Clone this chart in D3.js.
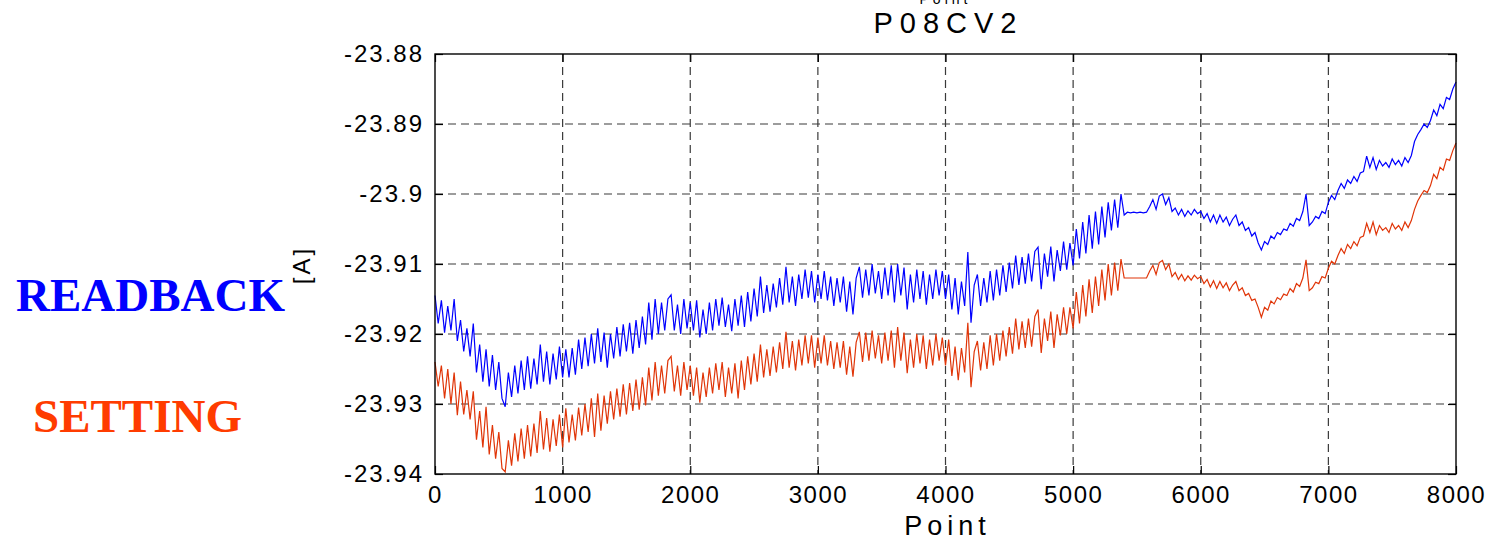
<!DOCTYPE html>
<html>
<head>
<meta charset="utf-8">
<script src="https://cdn.jsdelivr.net/npm/d3@7"></script>
<style>
  html, body { margin: 0; padding: 0; background: #fff; }
  svg { display: block; }
  .sans { font-family: "Liberation Sans", Arial, Helvetica, sans-serif; }
</style>
</head>
<body>
<svg id="chart" width="1490" height="541"></svg>
<script>
// ---- data (sample step = 25 points) ----
const sampleStep = 25;
const readback = [
-23.9145,-23.9185,-23.9152,-23.9198,-23.9160,-23.9195,-23.9150,-23.9210,-23.9180,-23.9225,
-23.9192,-23.9232,-23.9185,-23.9255,-23.9215,-23.9268,-23.9222,-23.9275,-23.9230,-23.9280,
-23.9240,-23.9292,-23.9304,-23.9255,-23.9290,-23.9245,-23.9285,-23.9238,-23.9280,-23.9232,
-23.9278,-23.9235,-23.9272,-23.9215,-23.9268,-23.9225,-23.9272,-23.9228,-23.9265,-23.9218,
-23.9262,-23.9222,-23.9262,-23.9220,-23.9258,-23.9208,-23.9250,-23.9205,-23.9246,-23.9200,
-23.9242,-23.9192,-23.9240,-23.9198,-23.9248,-23.9200,-23.9235,-23.9190,-23.9232,-23.9186,
-23.9225,-23.9184,-23.9228,-23.9180,-23.9220,-23.9175,-23.9215,-23.9155,-23.9208,-23.9150,
-23.9200,-23.9155,-23.9195,-23.9150,-23.9144,-23.9195,-23.9158,-23.9200,-23.9150,-23.9192,
-23.9155,-23.9195,-23.9152,-23.9205,-23.9165,-23.9200,-23.9155,-23.9195,-23.9150,-23.9188,
-23.9148,-23.9190,-23.9158,-23.9196,-23.9150,-23.9188,-23.9145,-23.9190,-23.9140,-23.9182,
-23.9135,-23.9175,-23.9118,-23.9170,-23.9130,-23.9168,-23.9128,-23.9162,-23.9120,-23.9158,
-23.9104,-23.9155,-23.9118,-23.9160,-23.9115,-23.9150,-23.9108,-23.9148,-23.9110,-23.9155,
-23.9115,-23.9150,-23.9110,-23.9152,-23.9118,-23.9160,-23.9120,-23.9155,-23.9118,-23.9168,
-23.9125,-23.9172,-23.9120,-23.9104,-23.9148,-23.9108,-23.9145,-23.9100,-23.9142,-23.9110,
-23.9150,-23.9105,-23.9145,-23.9102,-23.9155,-23.9100,-23.9145,-23.9105,-23.9165,-23.9115,
-23.9155,-23.9108,-23.9150,-23.9110,-23.9158,-23.9115,-23.9150,-23.9108,-23.9145,-23.9110,
-23.9150,-23.9115,-23.9165,-23.9120,-23.9172,-23.9125,-23.9160,-23.9083,-23.9184,-23.9130,
-23.9115,-23.9160,-23.9120,-23.9155,-23.9110,-23.9152,-23.9108,-23.9145,-23.9102,-23.9140,
-23.9098,-23.9135,-23.9088,-23.9130,-23.9090,-23.9128,-23.9085,-23.9125,-23.9082,-23.9076,
-23.9136,-23.9085,-23.9118,-23.9075,-23.9125,-23.9080,-23.9110,-23.9068,-23.9108,-23.9070,
-23.9102,-23.9050,-23.9092,-23.9040,-23.9085,-23.9030,-23.9078,-23.9025,-23.9072,-23.9018,
-23.9062,-23.9012,-23.9052,-23.9008,-23.9048,-23.9000,-23.9030,-23.9026,-23.9027,-23.9026,
-23.9027,-23.9026,-23.9027,-23.9026,-23.9018,-23.9008,-23.9022,-23.9003,-23.9000,-23.9015,
-23.9005,-23.9025,-23.9020,-23.9030,-23.9022,-23.9032,-23.9024,-23.9030,-23.9022,-23.9028,
-23.9025,-23.9035,-23.9028,-23.9040,-23.9030,-23.9042,-23.9030,-23.9040,-23.9033,-23.9045,
-23.9036,-23.9030,-23.9045,-23.9040,-23.9052,-23.9048,-23.9060,-23.9055,-23.9070,-23.9080,
-23.9068,-23.9072,-23.9060,-23.9064,-23.9055,-23.9058,-23.9050,-23.9052,-23.9042,-23.9046,
-23.9035,-23.9038,-23.9025,-23.9000,-23.9045,-23.9040,-23.9032,-23.9035,-23.9025,-23.9028,
-23.9012,-23.9002,-23.9008,-23.8995,-23.8985,-23.8992,-23.8980,-23.8985,-23.8975,-23.8982,
-23.8970,-23.8968,-23.8946,-23.8962,-23.8948,-23.8965,-23.8952,-23.8960,-23.8955,-23.8962,
-23.8950,-23.8958,-23.8952,-23.8960,-23.8948,-23.8955,-23.8945,-23.8925,-23.8915,-23.8908,
-23.8900,-23.8905,-23.8895,-23.8880,-23.8888,-23.8872,-23.8878,-23.8862,-23.8865,-23.8850,
-23.8840
];
const setting = [
-23.9240,-23.9275,-23.9245,-23.9292,-23.9250,-23.9300,-23.9255,-23.9316,-23.9268,-23.9315,
-23.9280,-23.9322,-23.9282,-23.9351,-23.9310,-23.9362,-23.9304,-23.9372,-23.9330,-23.9378,
-23.9340,-23.9392,-23.9397,-23.9352,-23.9388,-23.9342,-23.9382,-23.9335,-23.9378,-23.9330,
-23.9375,-23.9328,-23.9370,-23.9310,-23.9365,-23.9320,-23.9368,-23.9322,-23.9360,-23.9315,
-23.9362,-23.9306,-23.9355,-23.9315,-23.9352,-23.9305,-23.9345,-23.9300,-23.9340,-23.9292,
-23.9347,-23.9285,-23.9338,-23.9288,-23.9328,-23.9282,-23.9322,-23.9278,-23.9318,-23.9272,
-23.9315,-23.9270,-23.9310,-23.9265,-23.9308,-23.9262,-23.9302,-23.9248,-23.9295,-23.9240,
-23.9288,-23.9245,-23.9285,-23.9238,-23.9232,-23.9282,-23.9245,-23.9288,-23.9240,-23.9280,
-23.9245,-23.9288,-23.9248,-23.9298,-23.9255,-23.9290,-23.9248,-23.9285,-23.9242,-23.9280,
-23.9240,-23.9290,-23.9248,-23.9285,-23.9242,-23.9292,-23.9238,-23.9280,-23.9232,-23.9272,
-23.9228,-23.9268,-23.9215,-23.9262,-23.9222,-23.9260,-23.9218,-23.9255,-23.9212,-23.9250,
-23.9197,-23.9248,-23.9210,-23.9252,-23.9208,-23.9245,-23.9202,-23.9242,-23.9202,-23.9248,
-23.9205,-23.9242,-23.9202,-23.9245,-23.9210,-23.9250,-23.9212,-23.9248,-23.9210,-23.9258,
-23.9218,-23.9261,-23.9212,-23.9197,-23.9240,-23.9198,-23.9238,-23.9195,-23.9235,-23.9202,
-23.9242,-23.9198,-23.9238,-23.9195,-23.9248,-23.9190,-23.9238,-23.9198,-23.9256,-23.9208,
-23.9248,-23.9200,-23.9242,-23.9202,-23.9250,-23.9208,-23.9245,-23.9200,-23.9238,-23.9205,
-23.9245,-23.9208,-23.9260,-23.9218,-23.9266,-23.9220,-23.9255,-23.9184,-23.9276,-23.9225,
-23.9210,-23.9252,-23.9212,-23.9250,-23.9202,-23.9245,-23.9200,-23.9238,-23.9195,-23.9232,
-23.9190,-23.9228,-23.9178,-23.9222,-23.9182,-23.9220,-23.9178,-23.9218,-23.9175,-23.9165,
-23.9227,-23.9178,-23.9210,-23.9168,-23.9220,-23.9172,-23.9202,-23.9162,-23.9200,-23.9162,
-23.9192,-23.9140,-23.9185,-23.9130,-23.9175,-23.9122,-23.9170,-23.9118,-23.9160,-23.9108,
-23.9152,-23.9100,-23.9145,-23.9098,-23.9138,-23.9093,-23.9120,-23.9120,-23.9120,-23.9120,
-23.9120,-23.9120,-23.9120,-23.9120,-23.9110,-23.9102,-23.9115,-23.9098,-23.9095,-23.9108,
-23.9100,-23.9118,-23.9112,-23.9122,-23.9115,-23.9124,-23.9117,-23.9123,-23.9116,-23.9121,
-23.9118,-23.9128,-23.9122,-23.9133,-23.9124,-23.9135,-23.9125,-23.9134,-23.9127,-23.9138,
-23.9130,-23.9125,-23.9138,-23.9134,-23.9145,-23.9142,-23.9152,-23.9150,-23.9162,-23.9176,
-23.9162,-23.9166,-23.9153,-23.9157,-23.9148,-23.9151,-23.9143,-23.9145,-23.9135,-23.9140,
-23.9128,-23.9132,-23.9120,-23.9094,-23.9138,-23.9134,-23.9126,-23.9128,-23.9118,-23.9120,
-23.9106,-23.9096,-23.9100,-23.9088,-23.9078,-23.9085,-23.9072,-23.9078,-23.9068,-23.9074,
-23.9062,-23.9060,-23.9042,-23.9055,-23.9040,-23.9058,-23.9045,-23.9052,-23.9048,-23.9055,
-23.9042,-23.9050,-23.9045,-23.9052,-23.9040,-23.9048,-23.9038,-23.9022,-23.9010,-23.9002,
-23.8995,-23.8998,-23.8988,-23.8972,-23.8978,-23.8962,-23.8966,-23.8950,-23.8952,-23.8938,
-23.8927
];
const xTicks = [0, 1000, 2000, 3000, 4000, 5000, 6000, 7000, 8000];
const xTickLabels = ["0","1000","2000","3000","4000","5000","6000","7000","8000"];
const yTicks = [-23.94, -23.93, -23.92, -23.91, -23.90, -23.89, -23.88];
const yTickLabels = ["-23.94","-23.93","-23.92","-23.91","-23.9","-23.89","-23.88"];
const titleText = "P08CV2";
const xLabel = "Point";
const yLabel = "[A]";
const seriesNames = ["READBACK", "SETTING"];

// ---- layout ----
const svg = d3.select("#chart");
const L = 435, R = 1456, T = 54, B = 474;
const x = d3.scaleLinear().domain([0, 8000]).range([L, R]);
const y = d3.scaleLinear().domain([-23.94, -23.88]).range([B, T]);

// grid
const grid = svg.append("g").attr("stroke", "#3a3a3a").attr("stroke-width", 1.2)
  .attr("stroke-dasharray", "8,5").attr("fill", "none");
grid.selectAll(".gx").data(xTicks.slice(1, -1)).join("line")
  .attr("x1", d => x(d)).attr("x2", d => x(d)).attr("y1", T).attr("y2", B);
grid.selectAll(".gy").data(yTicks.slice(1, -1)).join("line")
  .attr("x1", L).attr("x2", R).attr("y1", d => y(d)).attr("y2", d => y(d));

// series
const line = d3.line().x((d, i) => x(i * sampleStep)).y(d => y(d));
svg.append("path").datum(setting).attr("d", line)
  .attr("fill", "none").attr("stroke", "#e03508").attr("stroke-width", 1.2).attr("stroke-linejoin", "miter");
svg.append("path").datum(readback).attr("d", line)
  .attr("fill", "none").attr("stroke", "#0000ff").attr("stroke-width", 1.2).attr("stroke-linejoin", "miter");

// axes
const fmtX = (d, i) => xTickLabels[i];
const fmtY = (d, i) => yTickLabels[i];
const ax = svg.append("g").attr("transform", `translate(0,${B})`)
  .call(d3.axisBottom(x).tickValues(xTicks).tickFormat(fmtX).tickSize(-8).tickPadding(12));
const ay = svg.append("g").attr("transform", `translate(${L},0)`)
  .call(d3.axisLeft(y).tickValues(yTicks).tickFormat(fmtY).tickSize(-8).tickPadding(11));
const at = svg.append("g").attr("transform", `translate(0,${T})`)
  .call(d3.axisTop(x).tickValues(xTicks).tickFormat("").tickSize(-8));
const ar = svg.append("g").attr("transform", `translate(${R},0)`)
  .call(d3.axisRight(y).tickValues(yTicks).tickFormat("").tickSize(-8));
[ax, ay, at, ar].forEach(g => {
  g.select(".domain").remove();
  g.selectAll(".tick line").attr("stroke", "#000").attr("stroke-width", 1.2);
});
ax.selectAll(".tick text").attr("class", "sans").attr("fill", "#000")
  .style("font-size", "24px").style("letter-spacing", "1.5px");
ay.selectAll(".tick text").attr("class", "sans").attr("fill", "#000")
  .style("font-size", "24px").style("letter-spacing", "2px");

// frame
svg.append("rect").attr("x", L).attr("y", T).attr("width", R - L).attr("height", B - T)
  .attr("fill", "none").attr("stroke", "#000").attr("stroke-width", 1.4);

// titles
const cx = (L + R) / 2;
svg.append("text").attr("class", "sans").attr("x", cx).attr("y", 3.5)
  .attr("text-anchor", "middle").style("font-size", "14px").style("letter-spacing", "4px")
  .text(xLabel);
svg.append("text").attr("class", "sans").attr("x", cx + 3).attr("y", 33)
  .attr("text-anchor", "middle").style("font-size", "29px").style("letter-spacing", "7px")
  .text(titleText);
svg.append("text").attr("class", "sans").attr("x", cx + 2).attr("y", 535)
  .attr("text-anchor", "middle").style("font-size", "27px").style("letter-spacing", "5px")
  .text(xLabel);
svg.append("text").attr("class", "sans")
  .attr("transform", "translate(310,265) rotate(-90)")
  .attr("text-anchor", "middle").style("font-size", "24px").style("letter-spacing", "3px")
  .text(yLabel);

// series labels
svg.append("text").attr("x", 16).attr("y", 311)
  .style("font-family", "'Liberation Serif', 'Times New Roman', serif")
  .style("font-weight", "bold").style("font-size", "47px").attr("fill", "#0000ff")
  .text(seriesNames[0]);
svg.append("text").attr("x", 33).attr("y", 432)
  .style("font-family", "'Liberation Serif', 'Times New Roman', serif")
  .style("font-weight", "bold").style("font-size", "47px").attr("fill", "#ff3c00")
  .text(seriesNames[1]);
</script>
</body>
</html>
